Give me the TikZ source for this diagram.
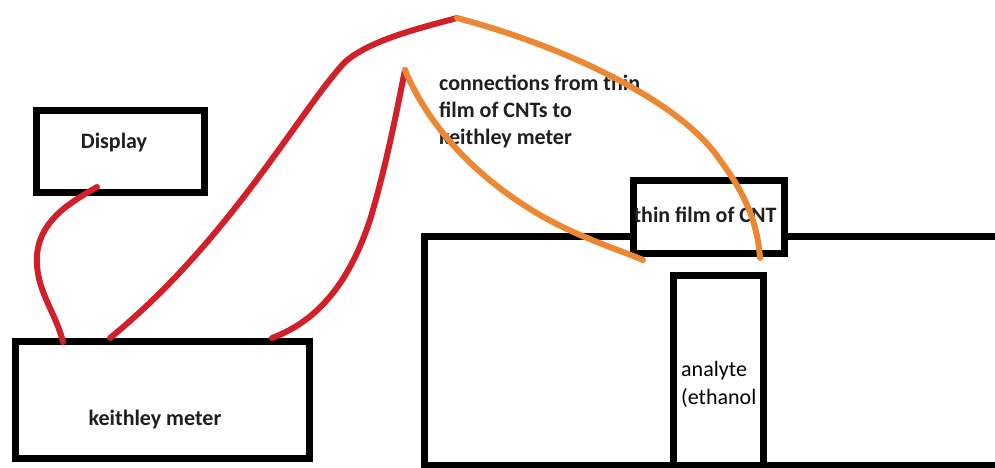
\documentclass[tikz,border=0pt]{standalone}
\usepackage{fontspec}
\setmainfont{Carlito}
\definecolor{wirered}{RGB}{210,32,42}
\definecolor{wireorange}{RGB}{236,136,52}
\begin{document}
\begin{tikzpicture}[x=1pt,y=-1pt,
  box/.style={draw=black,line width=7pt,rectangle,fill=white,inner sep=0pt},
  lbl/.style={font=\fontsize{22}{27}\selectfont\bfseries,inner sep=0pt,text=black!88},
  lblr/.style={font=\fontsize{22}{28}\selectfont,inner sep=0pt,text=black,align=left},
  redwire/.style={draw=wirered,line width=6pt,line cap=round},
  orangewire/.style={draw=wireorange,line width=6pt,line cap=round}]
\useasboundingbox (0,0) rectangle (995,468);
\clip (0,0) rectangle (995,468);
% boxes
\node[box,minimum width=168pt,minimum height=82pt] (disp) at (120.5,151.5) {};
\node[box,minimum width=294pt,minimum height=117pt] (meter) at (162.5,400) {};
\node[box,minimum width=586pt,minimum height=228.5pt] (chamber) at (717,350.75) {};
\node[box,minimum width=151pt,minimum height=73pt] (film) at (709,217) {};
\node[box,minimum width=90pt,minimum height=189.5pt] (analyte) at (718.5,370.25) {};
% labels
\node[lbl] (displbl) at (114,143) {Display};
\node[lbl] (meterlbl) at (155,420) {keithley meter};
\node[lbl] (filmlbl) at (705,215) {thin film of CNT};
\node[lblr,anchor=west] (analbl) at (681,384) {analyte\\(ethanol};
\node[lbl,anchor=west,align=left] (connlbl) at (439,111) {connections from thin\\film of CNTs to\\keithley meter};
% wire end points
\coordinate (d1) at (97,187);
\coordinate (m1) at (63,342);
\coordinate (m2) at (110,338);
\coordinate (m3) at (272,338);
\coordinate (j1) at (457,18);
\coordinate (j2) at (405,70);
\coordinate (f1) at (760,258);
\coordinate (f2) at (643,260);
% wires
\draw[redwire] (d1) .. controls (75,200) and (40,218) .. (37,255) .. controls (35,290) and (55,310) .. (m1);
\draw[redwire] (m2) .. controls (230,240) and (300,110) .. (345,62) .. controls (370,40) and (420,28) .. (j1);
\draw[redwire] (m3) .. controls (320,320) and (350,280) .. (370,220) .. controls (385,170) and (395,120) .. (j2);
\draw[orangewire] (j1) .. controls (560,45) and (680,100) .. (720,160) .. controls (750,200) and (758,230) .. (f1);
\draw[orangewire] (j2) .. controls (430,130) and (480,180) .. (540,215) .. controls (580,238) and (620,250) .. (f2);
\end{tikzpicture}
\end{document}
